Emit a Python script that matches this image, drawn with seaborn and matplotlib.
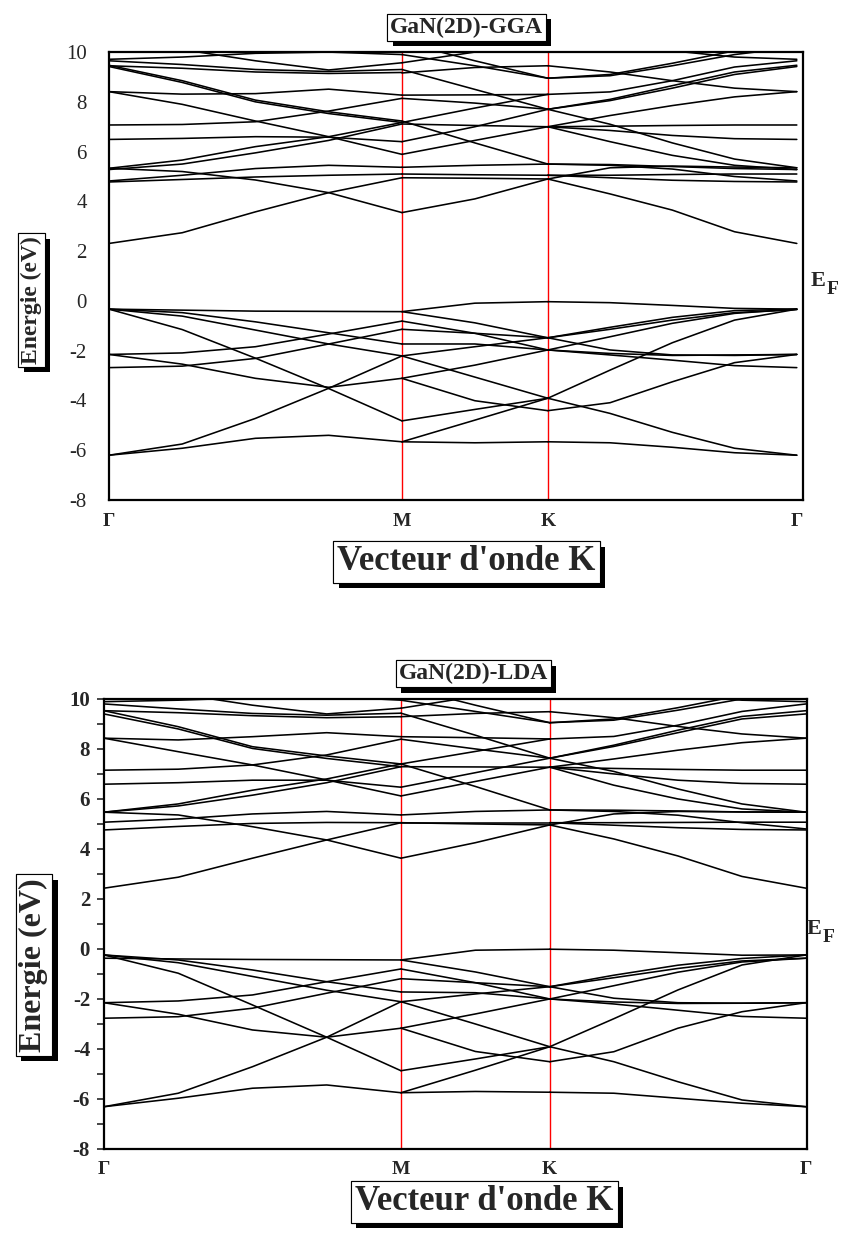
import numpy as np
import pandas as pd
import matplotlib
matplotlib.use("Agg")
import matplotlib.pyplot as plt
import matplotlib.patheffects as pe
import seaborn as sns

# ---------------- data ----------------
PATH_LABELS = ["Γ", "M", "K", "Γ"]
GGA_NODES = [0.0, 1.0, 1.498, 2.348]     # Γ, M, K, Γ positions (path length)
LDA_NODES = [0.0, 1.0, 1.501, 2.364]
ENERGY_TICKS = [-8, -6, -4, -2, 0, 2, 4, 6, 8, 10]

# Γ -> M lines (5 samples), M -> K lines (3 samples), K -> Γ lines (5 samples), energies in eV
GGA_GM = [
    [-0.33, -0.37, -0.41, -0.42, -0.43],
    [-2.15, -2.09, -1.84, -1.33, -0.81],
    [-2.68, -2.62, -2.31, -1.73, -1.14],
    [-0.33, -0.47, -0.84, -1.28, -1.73],
    [-0.33, -0.61, -1.17, -1.73, -2.21],
    [-0.33, -1.15, -2.30, -3.52, -4.82],
    [-2.15, -2.54, -3.11, -3.47, -3.11],
    [-6.20, -5.75, -4.72, -3.51, -2.21],
    [-6.20, -5.92, -5.52, -5.40, -5.66],
    [2.31, 2.74, 3.58, 4.35, 4.95],
    [5.33, 5.20, 4.86, 4.35, 3.55],
    [4.78, 4.88, 4.98, 5.05, 5.10],
    [4.82, 5.05, 5.32, 5.45, 5.37],
    [5.28, 5.50, 5.95, 6.45, 7.11],
    [5.33, 5.66, 6.20, 6.60, 7.17],
    [6.49, 6.53, 6.60, 6.58, 6.40],
    [7.07, 7.09, 7.20, 7.63, 8.14],
    [8.41, 8.31, 8.33, 8.51, 8.27],
    [8.41, 7.90, 7.23, 6.60, 5.89],
    [9.47, 8.85, 8.07, 7.60, 7.23],
    [9.42, 8.78, 8.00, 7.53, 7.17],
    [9.71, 9.80, 9.95, 10.0, 9.90],
    [10.4, 10.1, 9.65, 9.28, 9.57],
    [9.65, 9.50, 9.30, 9.22, 9.30],
    [9.45, 9.35, 9.20, 9.14, 9.18],
]
GGA_MK = [
    [-0.43, -0.09, -0.03],
    [-0.43, -0.88, -1.48],
    [-0.81, -1.30, -1.97],
    [-1.14, -1.30, -1.48],
    [-1.73, -1.73, -1.97],
    [-2.21, -1.84, -1.48],
    [-2.21, -3.06, -3.91],
    [-3.11, -2.58, -1.97],
    [-3.11, -4.01, -4.41],
    [-4.82, -4.36, -3.91],
    [-5.66, -4.79, -3.91],
    [-5.66, -5.70, -5.66],
    [3.55, 4.10, 4.90],
    [4.95, 4.93, 4.90],
    [5.10, 5.07, 5.05],
    [5.37, 5.45, 5.50],
    [5.89, 6.45, 7.00],
    [6.40, 7.00, 7.70],
    [7.11, 7.05, 7.00],
    [7.17, 7.75, 8.30],
    [7.23, 6.35, 5.50],
    [8.14, 7.95, 7.70],
    [8.27, 8.28, 8.30],
    [9.16, 9.38, 9.45],
    [9.30, 8.50, 7.70],
    [9.57, 10.0, 10.5],
    [9.90, 9.45, 8.95],
    [10.4, 9.65, 8.95],
]
GGA_KG = [
    [-0.03, -0.07, -0.18, -0.30, -0.33],
    [-1.48, -1.14, -0.77, -0.47, -0.35],
    [-1.48, -1.06, -0.66, -0.39, -0.33],
    [-1.48, -1.97, -2.17, -2.19, -2.15],
    [-1.97, -2.11, -2.19, -2.17, -2.15],
    [-1.97, -1.44, -0.90, -0.50, -0.33],
    [-1.97, -2.17, -2.38, -2.60, -2.68],
    [-3.91, -2.78, -1.68, -0.77, -0.33],
    [-3.91, -4.52, -5.28, -5.92, -6.20],
    [-4.41, -4.09, -3.25, -2.48, -2.15],
    [-5.66, -5.70, -5.88, -6.10, -6.20],
    [4.90, 4.30, 3.65, 2.78, 2.31],
    [4.90, 5.35, 5.42, 5.38, 5.35],
    [5.05, 5.05, 5.08, 5.10, 5.10],
    [5.05, 4.95, 4.85, 4.80, 4.78],
    [5.50, 5.45, 5.30, 5.00, 4.82],
    [5.50, 5.48, 5.40, 5.32, 5.28],
    [7.00, 7.02, 7.05, 7.07, 7.07],
    [7.00, 6.85, 6.65, 6.52, 6.49],
    [7.00, 7.45, 7.85, 8.20, 8.41],
    [7.00, 6.40, 5.85, 5.45, 5.28],
    [7.70, 7.10, 6.35, 5.70, 5.35],
    [7.70, 8.05, 8.55, 9.10, 9.42],
    [7.70, 8.10, 8.65, 9.20, 9.47],
    [8.30, 8.40, 8.85, 9.40, 9.65],
    [9.45, 9.20, 8.85, 8.55, 8.41],
    [8.95, 9.10, 9.55, 10.05, 10.4],
    [8.95, 9.05, 9.45, 9.90, 10.2],
    [10.6, 10.4, 10.05, 9.80, 9.71],
]

LDA_GM = [
    [-0.37, -0.40, -0.42, -0.43, -0.44],
    [-2.15, -2.08, -1.84, -1.31, -0.80],
    [-2.77, -2.71, -2.37, -1.77, -1.19],
    [-0.24, -0.44, -0.84, -1.31, -1.72],
    [-0.24, -0.55, -1.10, -1.65, -2.11],
    [-0.24, -0.97, -2.24, -3.53, -4.87],
    [-2.15, -2.61, -3.24, -3.53, -3.17],
    [-6.31, -5.77, -4.71, -3.53, -2.11],
    [-6.31, -5.97, -5.57, -5.44, -5.75],
    [2.43, 2.87, 3.63, 4.36, 5.05],
    [5.47, 5.36, 4.89, 4.36, 3.63],
    [4.76, 4.90, 5.02, 5.06, 5.05],
    [5.07, 5.20, 5.40, 5.50, 5.36],
    [5.47, 5.72, 6.15, 6.65, 7.29],
    [5.47, 5.80, 6.35, 6.80, 7.40],
    [6.59, 6.65, 6.75, 6.75, 6.47],
    [7.15, 7.19, 7.36, 7.76, 8.39],
    [8.43, 8.36, 8.49, 8.65, 8.49],
    [8.43, 7.89, 7.36, 6.76, 6.12],
    [9.53, 8.89, 8.09, 7.72, 7.40],
    [9.40, 8.80, 8.02, 7.62, 7.29],
    [9.89, 9.95, 10.05, 10.1, 9.95],
    [10.5, 10.2, 9.75, 9.40, 9.63],
    [9.80, 9.60, 9.42, 9.35, 9.43],
    [9.53, 9.45, 9.33, 9.25, 9.29],
]
LDA_MK = [
    [-0.44, -0.05, -0.01],
    [-0.44, -0.92, -1.51],
    [-0.80, -1.35, -2.00],
    [-1.19, -1.35, -1.51],
    [-1.72, -1.75, -2.00],
    [-2.11, -1.80, -1.51],
    [-2.11, -3.00, -3.91],
    [-3.17, -2.60, -2.00],
    [-3.17, -4.10, -4.51],
    [-4.87, -4.40, -3.91],
    [-5.75, -4.85, -3.91],
    [-5.75, -5.70, -5.73],
    [3.63, 4.25, 4.96],
    [5.05, 5.00, 4.96],
    [5.05, 5.05, 5.05],
    [5.36, 5.50, 5.56],
    [6.12, 6.70, 7.27],
    [6.47, 7.05, 7.63],
    [7.29, 7.28, 7.27],
    [7.40, 7.90, 8.40],
    [7.40, 6.50, 5.56],
    [8.39, 8.00, 7.63],
    [8.49, 8.45, 8.40],
    [9.29, 9.42, 9.49],
    [9.43, 8.55, 7.63],
    [9.63, 10.1, 10.6],
    [9.95, 9.50, 9.05],
    [10.5, 9.75, 9.05],
]
LDA_KG = [
    [-0.01, -0.05, -0.15, -0.25, -0.24],
    [-1.51, -1.15, -0.78, -0.48, -0.37],
    [-1.51, -1.05, -0.65, -0.38, -0.24],
    [-1.51, -1.97, -2.15, -2.17, -2.15],
    [-2.00, -2.12, -2.18, -2.17, -2.15],
    [-2.00, -1.47, -0.93, -0.52, -0.37],
    [-2.00, -2.20, -2.45, -2.70, -2.77],
    [-3.91, -2.79, -1.64, -0.64, -0.24],
    [-3.91, -4.51, -5.31, -6.04, -6.31],
    [-4.51, -4.11, -3.17, -2.51, -2.15],
    [-5.73, -5.77, -5.97, -6.17, -6.31],
    [4.96, 4.40, 3.72, 2.90, 2.43],
    [4.96, 5.40, 5.50, 5.48, 5.47],
    [5.05, 5.05, 5.06, 5.07, 5.07],
    [5.05, 4.95, 4.85, 4.78, 4.76],
    [5.56, 5.50, 5.35, 5.05, 4.80],
    [5.56, 5.55, 5.52, 5.48, 5.47],
    [7.27, 7.22, 7.18, 7.15, 7.15],
    [7.27, 7.00, 6.75, 6.62, 6.59],
    [7.27, 7.60, 7.95, 8.25, 8.43],
    [7.27, 6.55, 6.00, 5.60, 5.47],
    [7.63, 7.10, 6.40, 5.80, 5.47],
    [7.63, 8.10, 8.65, 9.20, 9.40],
    [7.63, 8.15, 8.75, 9.30, 9.53],
    [8.40, 8.50, 8.95, 9.50, 9.80],
    [9.49, 9.25, 8.90, 8.60, 8.43],
    [9.05, 9.20, 9.65, 10.15, 10.5],
    [9.05, 9.15, 9.55, 10.0, 10.3],
    [10.6, 10.45, 10.15, 9.95, 9.89],
]

# ---------------- helpers ----------------
SERIF = ["Liberation Serif", "DejaVu Serif"]


def band_frame(nodes, gm, mk, kg):
    g0, m, k, g1 = nodes
    rows = []
    lid = 0
    for seg, xs in ((gm, np.linspace(g0, m, 5)),
                    (mk, np.linspace(m, k, 3)),
                    (kg, np.linspace(k, g1, 5))):
        for band in seg:
            for x, e in zip(xs, band):
                rows.append((lid, x, e))
            lid += 1
    return pd.DataFrame(rows, columns=["line", "k", "E"])


def boxed(fig, x, y, s, size, rotation=0):
    t = fig.text(x, y, s, ha="center", va="center", fontsize=size,
                 fontweight="bold", rotation=rotation, family=SERIF,
                 bbox=dict(boxstyle="square,pad=0.12", fc="white",
                           ec="black", lw=0.8))
    t.get_bbox_patch().set_path_effects(
        [pe.withSimplePatchShadow(offset=(4, -4), shadow_rgbFace="black",
                                  alpha=1.0), pe.Normal()])
    return t


def fermi_label(fig, x, y):
    fig.text(x, y, "E", fontsize=16, fontweight="bold", family=SERIF,
             ha="left", va="center")
    fig.text(x + 0.019, y - 0.007, "F", fontsize=14, fontweight="bold",
             family=SERIF, ha="left", va="center")


def draw_panel(ax, nodes, gm, mk, kg, xmax, bold_ticks, minor):
    df = band_frame(nodes, gm, mk, kg)
    sns.lineplot(data=df, x="k", y="E", units="line", estimator=None,
                 sort=False, color="black", linewidth=1.15, ax=ax,
                 legend=False)
    for xv in nodes[1:3]:
        ax.axvline(xv, color="red", lw=1.0, zorder=0.5)
    ax.set_xlim(0, xmax)
    ax.set_ylim(-8, 10)
    ax.set_xlabel("")
    ax.set_ylabel("")
    ax.set_xticks(nodes)
    ax.set_xticklabels(PATH_LABELS, fontsize=14, fontweight="bold",
                       family=SERIF)
    ax.set_yticks(ENERGY_TICKS)
    ax.set_yticklabels([str(v) for v in ENERGY_TICKS], fontsize=15,
                       fontweight="bold" if bold_ticks else "normal",
                       family=SERIF)
    ax.tick_params(axis="x", length=0, pad=9)
    if minor:
        ax.set_yticks(list(range(-7, 10, 2)), minor=True)
        ax.tick_params(axis="y", which="both", direction="out", length=5,
                       width=1.2, pad=5, left=True)
    else:
        ax.tick_params(axis="y", length=0, pad=16)
    for sp in ax.spines.values():
        sp.set_visible(True)
        sp.set_color("black")
        sp.set_linewidth(1.6)


# ---------------- figure ----------------
sns.set_style("white")
plt.rcParams["font.family"] = SERIF
plt.rcParams["axes.unicode_minus"] = False

fig = plt.figure(figsize=(8.48, 12.34), dpi=100)
ax1 = fig.add_axes([0.1285, 0.5948, 0.8184, 0.3630])
ax2 = fig.add_axes([0.1226, 0.0689, 0.8290, 0.3647])

draw_panel(ax1, GGA_NODES, GGA_GM, GGA_MK, GGA_KG, 2.369, False, False)
draw_panel(ax2, LDA_NODES, LDA_GM, LDA_MK, LDA_KG, 2.367, True, True)

boxed(fig, 0.550, 0.978, "GaN(2D)-GGA", 17)
boxed(fig, 0.550, 0.5446, "Vecteur d'onde K", 25)
boxed(fig, 0.037, 0.757, "Energie (eV)", 17, rotation=90)
fermi_label(fig, 0.956, 0.772)

boxed(fig, 0.558, 0.454, "GaN(2D)-LDA", 17)
boxed(fig, 0.571, 0.026, "Vecteur d'onde K", 25)
boxed(fig, 0.040, 0.218, "Energie (eV)", 23, rotation=90)
fermi_label(fig, 0.951, 0.247)

fig.savefig("out.png", dpi=100)
